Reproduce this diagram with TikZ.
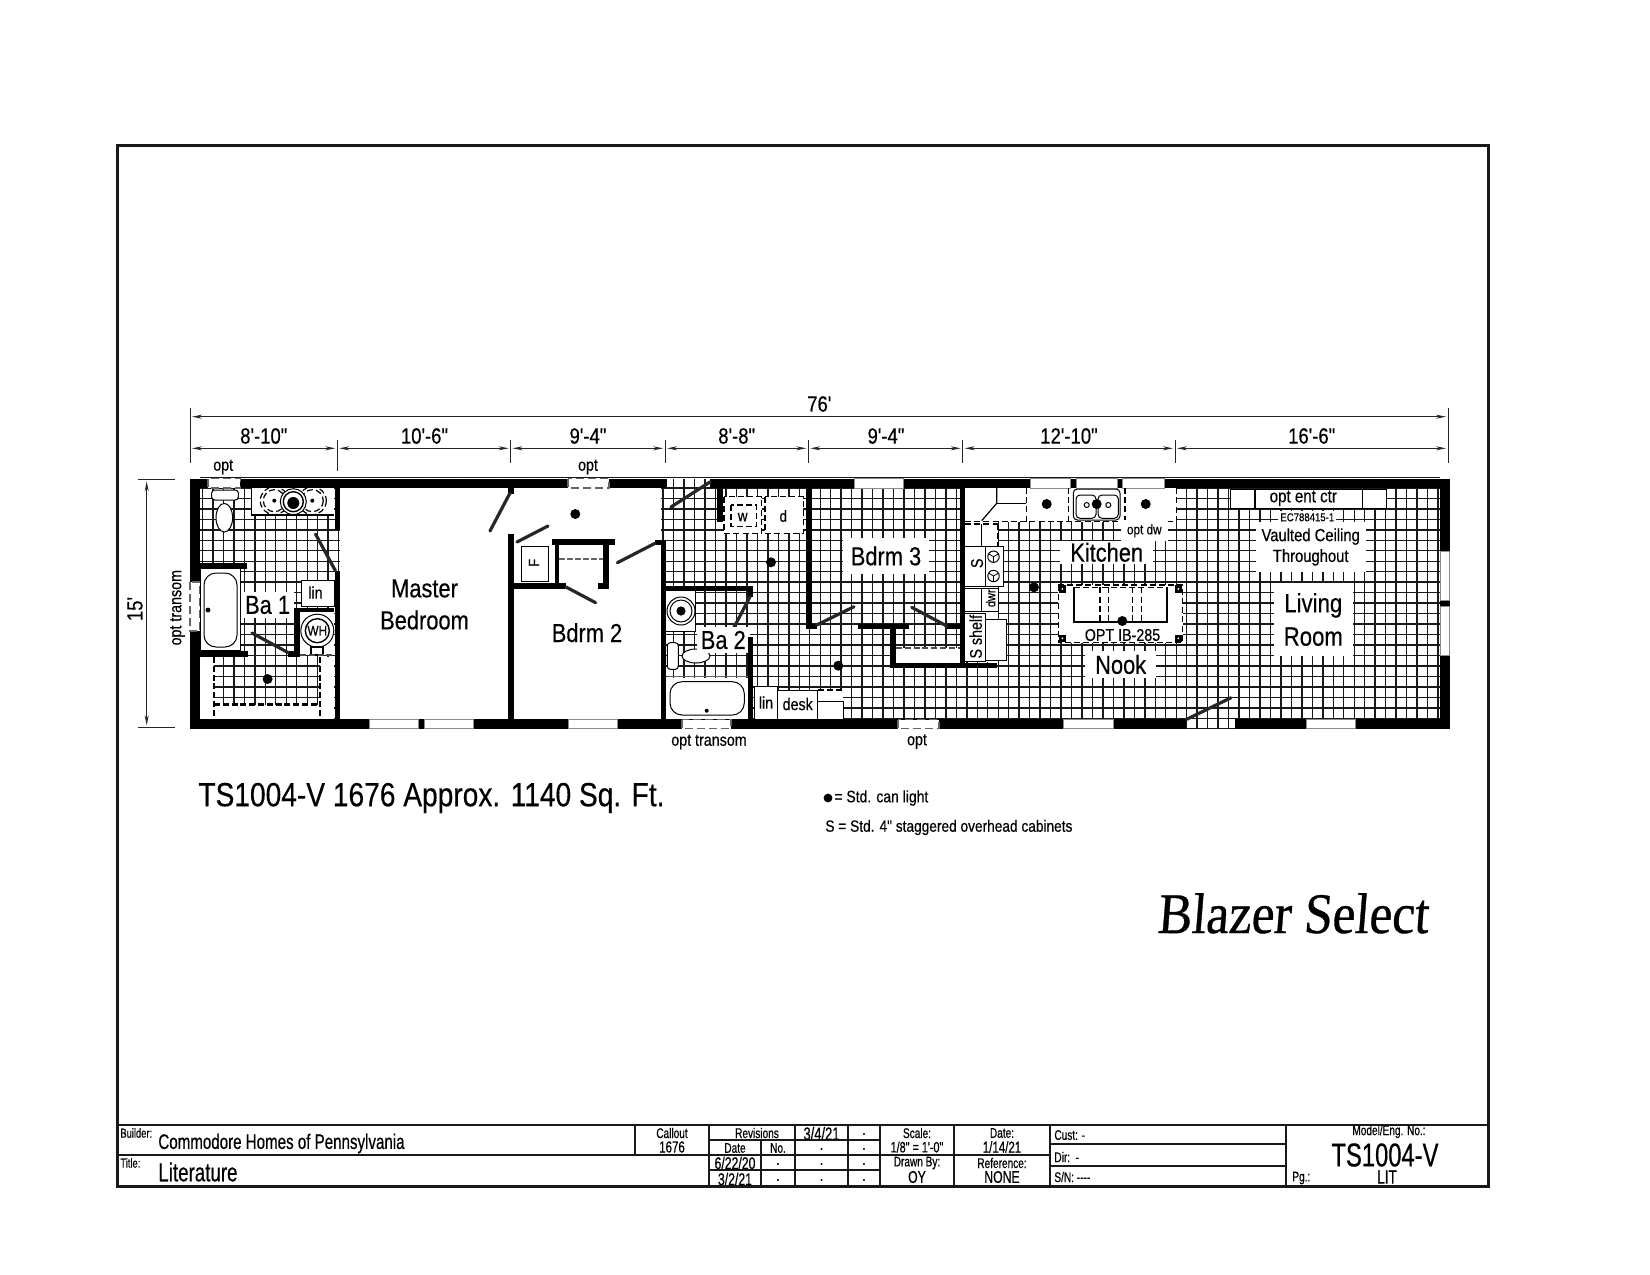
\documentclass[tikz,border=0pt]{standalone}
\usepackage{fontspec}
\usepackage{tikz}
\usetikzlibrary{arrows.meta}
\setmainfont{Liberation Sans}
\newfontfamily\cad[FakeStretch=0.84,FakeBold=0.35]{Liberation Sans}
\newfontfamily\cadn[FakeStretch=0.72,FakeBold=0.45]{Liberation Sans}
\newfontfamily\brand[FakeStretch=0.89,FakeSlant=0.08,FakeBold=0.6]{Liberation Serif}
\newcommand{\sz}[1]{\fontsize{#1}{#1}\selectfont}
\tikzset{%
    wall/.style={fill=black},
    tile/.style={line width=0.7pt,black!90},
    win/.style={fill=white,draw=black!45,line width=0.4pt},
    optwin/.style={fill=white,draw=black!60,line width=0.6pt,dashed,dash pattern=on 4pt off 2pt},
    dot/.style={circle,fill=black,inner sep=0pt,minimum size=5pt},
    door/.style={line width=1.6pt,black!85,line cap=round},
    fix/.style={fill=white,draw=black,line width=0.5pt},
    mask/.style={fill=white},
    dsh/.style={line width=0.6pt,dashed,dash pattern=on 3pt off 1.6pt},
    thickdsh/.style={line width=1.2pt,dashed,dash pattern=on 3pt off 1.4pt}
}
\begin{document}
\begin{tikzpicture}[
        x=0.5pt,y=-0.5pt,
        dim/.style={line width=0.6pt,black!85,{Stealth[length=5pt,width=2pt]}-{Stealth[length=5pt,width=2pt]},shorten <=1pt,shorten >=1pt},
        ext/.style={line width=0.5pt,black!85},
        room/.style={font=\cad\sz{13},fill=white,inner sep=2pt,align=center},
        note/.style={font=\cad\sz{8.5},inner sep=0pt},
        small/.style={font=\cad\sz{7},fill=white,inner sep=1pt},
        tbl/.style={line width=0.9pt,black!90},
        tbs/.style={font=\cadn\sz{6.5},inner sep=0pt},
        tbm/.style={font=\cadn\sz{8},inner sep=0pt}
        ]
        \useasboundingbox (0,0) rectangle (1650,1275);
        \fill[white] (0,0) rectangle (1650,1275);

        \foreach \i in {0,...,118} {\draw[tile] ({202.5+10.47*\i},478.5) -- ({202.5+10.47*\i},728.5);}
        \foreach \i in {-1,...,23} {\draw[tile] (200,{718.3-10.47*\i}) -- (1440,{718.3-10.47*\i});}

        \fill[mask] (340,488) rectangle (661,719);
        \fill[mask] (200,657) rectangle (214,719);
        \fill[mask] (320,657) rectangle (334,719);
        \fill[mask] (214,704.5) rectangle (320,719);
        \fill[mask] (965,488) rectangle (1176.7,521.7);
        \fill[mask] (965,521) rectangle (998,662);
        \fill[mask] (896,648) rectangle (960,663);
        \fill[mask] (1058,585) rectangle (1183,643);
        \fill[mask] (666,678) rectangle (748,719);

        \fill[wall] (189.5,478.5) rectangle (667,488.3);
        \fill[wall] (710,478.5) rectangle (1450,488.3);
        \fill[wall] (189.5,719.3) rectangle (1186,729);
        \fill[wall] (1235,719.3) rectangle (1450,729);
        \fill[wall] (189.5,478.5) rectangle (200,729);
        \fill[wall] (1439.5,478.5) rectangle (1450,729);
        \fill[wall] (335,488) rectangle (340.3,530);
        \fill[wall] (335,571) rectangle (340.3,719);
        \fill[wall] (508,488) rectangle (514,494);
        \fill[wall] (508,534) rectangle (514,720);
        \fill[wall] (660.6,540) rectangle (666.4,720);
        \fill[wall] (655,540) rectangle (666,545);
        \fill[wall] (551.6,539) rectangle (614.7,545);
        \fill[wall] (554.6,539) rectangle (559,588);
        \fill[wall] (514,583) rectangle (566,589);
        \fill[wall] (603,545) rectangle (609,589);
        \fill[wall] (597.5,583) rectangle (609,589);
        \fill[wall] (200,562.7) rectangle (247,568.7);
        \fill[wall] (200,650.5) rectangle (248,656.7);
        \fill[wall] (294.4,608) rectangle (299.8,656);
        \fill[wall] (294.4,608) rectangle (334,612.3);
        \fill[wall] (288,651) rectangle (300,656.5);
        \fill[wall] (666,586) rectangle (753.3,591);
        \fill[wall] (748.3,586) rectangle (753.3,596.7);
        \fill[wall] (716.7,488) rectangle (722.7,521.7);
        \fill[wall] (805.7,488) rectangle (811.7,629.3);
        \fill[wall] (805.7,624.3) rectangle (816.7,629.3);
        \fill[wall] (858.3,624.3) rectangle (909.3,629.3);
        \fill[wall] (890,624.3) rectangle (896,667.3);
        \fill[wall] (890,662.7) rectangle (996.7,668);
        \fill[wall] (946.7,624.3) rectangle (965,629.3);
        \fill[wall] (960,488) rectangle (964.5,668);

        \draw[win] (854,478.8) rectangle (903,488);
        \draw[win] (1030.7,478.8) rectangle (1070.7,488);
        \draw[win] (1076,478.8) rectangle (1117,488);
        \draw[win] (1122.7,478.8) rectangle (1164,488);
        \draw[win] (1440,551.7) rectangle (1449.5,600);
        \draw[win] (1440,606.7) rectangle (1449.5,655);
        \draw[win] (369.8,719.8) rectangle (418.4,728.5);
        \draw[win] (424,719.8) rectangle (473,728.5);
        \draw[win] (568,719.8) rectangle (617.4,728.5);
        \draw[win] (1063,719.8) rectangle (1113,728.5);
        \draw[win] (1306,719.8) rectangle (1355,728.5);
        \draw[optwin] (208,478.8) rectangle (240.4,488);
        \draw[optwin] (568,478.8) rectangle (609,488);
        \draw[optwin] (190,582) rectangle (200,631);
        \draw[optwin] (682,719.8) rectangle (731,728.5);
        \draw[optwin] (898,719.8) rectangle (939,728.5);

        \draw[door] (510,493) -- (490,531);
        \draw[door] (517,542) -- (548,526);
        \draw[door] (566,587) -- (595.6,602.7);
        \draw[door] (617.4,562.7) -- (655,543.3);
        \draw[door] (252,633) -- (288.3,652.7);
        \draw[door] (315.5,534) -- (335.4,570.7);
        \draw[door] (710,482) -- (671,507);
        \draw[door] (750,596.7) -- (730,635);
        \draw[door] (816.7,625) -- (854,606.7);
        \draw[door] (911.7,607.3) -- (946.7,626);
        \draw[door] (1186.7,719.3) -- (1231,697.7);

        \fill[mask] (251.7,488) rectangle (334,515);
        \draw[line width=0.7pt] (251.7,488) -- (251.7,515) -- (334,515);
        \draw[dsh] (274.3,500.7) circle (14);
        \draw[dsh] (274.3,500.7) circle (11);
        \draw[dsh] (312.3,500.7) circle (14);
        \draw[dsh] (312.3,500.7) circle (11);
        \draw[fix] (293.3,501.7) circle (13);
        \draw[fix,line width=0.7pt] (293.3,501.7) circle (10);
        \node[dot,minimum size=6pt] (bowl) at (293.3,503){};
        \node[dot,minimum size=2pt] (hot1) at (274.3,500.7){};
        \node[dot,minimum size=2pt] (hot2) at (312.3,500.7){};
        \draw[fix,rounded corners=1.5pt] (211.7,490) rectangle (238.3,500);
        \draw[fix] (224.3,517.7) ellipse (8.3 and 14.3);

        \draw[fix] (200,568.7) rectangle (240,650.5);
        \draw[fix,rounded corners=6pt] (204,573) rectangle (237,647);
        \node[dot,minimum size=2.4pt] (drain1) at (208,610){};
        \draw[fix] (301.7,580) rectangle (334,606.7);
        \fill[mask] (299.8,612.3) rectangle (334,655);
        \draw[fix] (317.3,630.7) circle (16.5);
        \draw[fix,line width=0.7pt] (317.3,630.7) circle (12);
        \node[font=\cad\sz{7},inner sep=0pt] (wh) at (317.3,630.7) {WH};
        \draw[line width=0.8pt] (311,647) rectangle (323,655);
        \draw[thickdsh,black!70] (300,655) -- (334,655);
        \draw[thickdsh] (214,657) -- (214,719);
        \draw[thickdsh] (320,657) -- (320,719);
        \draw[thickdsh] (214,704.5) -- (320,704.5);

        \draw[line width=0.5pt,fill=white] (521,546) rectangle (548.5,581);
        \node[font=\cad\sz{7.5},rotate=90,inner sep=0pt] (frz) at (534,562.7) {F};
        \draw[line width=1pt,black!60,dashed,dash pattern=on 3pt off 1pt] (559,559) -- (603,559);

        \fill[mask] (666,591) rectangle (695,631.7);
        \draw[fix] (681,611) circle (14);
        \draw[fix] (681,611) circle (11);
        \node[dot,minimum size=4.6pt] (bowl2) at (681,611){};
        \draw[line width=0.5pt] (695,591) -- (695,631.7) -- (666,631.7);
        \draw[fix,rounded corners=1.5pt] (667.3,642.7) rectangle (678.3,669.3);
        \draw[fix] (696,656) ellipse (14 and 7);
        \draw[line width=0.4pt,black!60] (666.7,676) -- (748,676);
        \draw[fix,rounded corners=6pt] (670,681.7) rectangle (744.3,715);
        \node[dot,minimum size=2pt] (drain2) at (706.7,710.7){};

        \fill[mask] (724,496.7) rectangle (761.7,533.3);
        \fill[mask] (765,496.7) rectangle (803.3,533.3);
        \draw[dsh] (724,496.7) rectangle (761.7,533.3);
        \draw[dsh] (731,505) rectangle (756.7,526.7);
        \draw[dsh] (765,496.7) rectangle (803.3,533.3);
        \node[font=\cad\sz{8},inner sep=0pt] (wsh) at (742.7,517) {w};
        \node[font=\cad\sz{8},inner sep=0pt] (dry) at (783.3,516) {d};

        \draw[fix] (754,686.7) rectangle (777.3,719);
        \draw[fix] (777.3,690) rectangle (817.7,719);
        \fill[mask] (817.7,690) rectangle (843.3,719);
        \draw[dsh] (817.7,690) -- (843.3,690);
        \draw[line width=0.5pt] (817.7,701.7) -- (843.3,701.7) -- (843.3,719);
        \node[note,font=\cad\sz{8.5}] (lin2) at (766,702.5) {lin};
        \node[note,font=\cad\sz{8.5}] (desk) at (797.7,704) {desk};

        \draw[thickdsh,black!70] (896,647.7) -- (960,647.7);

        \draw[line width=0.6pt] (996.7,488) -- (996.7,503.3) -- (981.7,520.7);
        \draw[line width=0.6pt] (996.7,503.3) -- (1026,503.3);
        \draw[dsh] (965,521.7) -- (1176.7,521.7) -- (1176.7,488);
        \draw[dsh] (1026.7,488) -- (1026.7,521.7);
        \draw[dsh] (1068.3,488) -- (1068.3,521.7);
        \draw[dsh] (1125,488) -- (1125,521.7);
        \draw[dsh] (965,524) -- (998,524);
        \draw[dsh] (998,524) -- (998,546);
        \draw[line width=0.5pt] (981.7,524) -- (981.7,546);
        \draw[fix,rounded corners=2pt] (1073.3,489) rectangle (1120,520);
        \draw[fix,rounded corners=2pt] (1076,495) rectangle (1096,518.3);
        \draw[fix,rounded corners=2pt] (1098,495) rectangle (1118.3,518.3);
        \draw[line width=0.5pt] (1086.7,505) circle (2.5);
        \draw[line width=0.5pt] (1108.3,505) circle (2.5);
        \node[dot] (c1) at (1046.7,504){};
        \node[dot] (c2) at (1096.7,504){};
        \node[dot] (c3) at (1145.7,504){};

        \draw[fix] (964.5,546) rectangle (985,586.7);
        \draw[fix] (985,546) rectangle (1003,586.7);
        \foreach \yy in {556.7,576} {
            \draw[line width=0.5pt] (993.5,\yy) circle (5.7);
            \draw[line width=0.4pt] (993.5,\yy) -- +(90:5.7) (993.5,\yy) -- +(210:5.7) (993.5,\yy) -- +(330:5.7);
        }
        \node[font=\cad\sz{8.5},rotate=90,inner sep=0pt] (s1) at (977,563.3) {S};
        \draw[line width=0.5pt] (964.5,588) rectangle (981.7,611.7);
        \draw[fix] (981.7,588) rectangle (998,611.7);
        \node[font=\cad\sz{6.5},rotate=90,inner sep=0pt] (dwr) at (990.7,598.3) {dwr};
        \draw[fix] (964.5,613) rectangle (985,661.7);
        \draw[fix] (985,619) rectangle (1006.7,660);
        \node[font=\cad\sz{8.5},rotate=90,inner sep=0pt] (shelf) at (975.7,636.7) {S shelf};

        \draw[dsh] (1058.3,585) rectangle (1182.7,642.7);
        \draw[line width=0.8pt] (1074,587.3) -- (1074,621.7) -- (1166.7,621.7) -- (1166.7,587.3);
        \draw[dsh] (1074,587.3) -- (1166.7,587.3);
        \foreach \xx in {1100,1108.3,1132.7,1141.7} {\draw[dsh] (\xx,587.3) -- (\xx,621.7);}
        \foreach \yy in {589,638.3} {
            \foreach \xx in {1062.3,1178.3} {
                \fill[black] (\xx-3.6,\yy-3.6) rectangle (\xx+3.6,\yy+3.6);
                \fill[white] (\xx,\yy) circle (1);
            }
        }
        \node[dot] (c4) at (1122.3,621){};
        \node[dot] (c5) at (1034,587.3){};
        \node[dot] (c6) at (575.3,514){};
        \node[dot] (c7) at (267.6,679){};
        \node[dot] (c8) at (771,562.3){};
        \node[dot] (c9) at (838.3,665.7){};

        \draw[fix] (1230,489) rectangle (1386.7,508.3);
        \draw[line width=0.6pt] (1255,489) -- (1255,508.3);
        \draw[line width=0.6pt] (1362.3,489) -- (1362.3,508.3);

        \node[room,fill=none] (mbr) at (424.5,604.5) {Master\\[3pt]Bedroom};
        \node[room,fill=none] (bd2) at (587,632.7) {Bdrm 2};
        \node[room] (ba1) at (267.6,605) {Ba 1};
        \node[font=\cad\sz{8.5},inner sep=0pt] (lin1) at (315.5,592.5) {lin};
        \node[room] (ba2) at (723.3,640) {Ba 2};
        \fill[wall] (748.3,637.3) rectangle (753.3,719);
        \node[room,inner sep=4pt] (bd3) at (886,556) {Bdrm 3};
        \node[room,inner xsep=5pt,inner ysep=1pt] (kit) at (1106.7,552.3) {Kitchen};
        \node[room,inner xsep=5pt] (nook) at (1120.7,664.5) {Nook};
        \node[font=\cad\sz{8.5},inner sep=0pt] (ib) at (1122.5,635) {OPT IB-285};
        \node[small,inner xsep=3pt,inner ysep=2pt] (dw) at (1144.3,530.7) {opt dw};
        \node[font=\cad\sz{9},inner sep=0pt] (ent) at (1303.3,498.3) {opt ent ctr};
        \node[small,font=\cad\sz{5.7}] (ec) at (1307.3,517.3) {EC788415-1};
        \node[room,font=\cad\sz{8.8},inner sep=3pt] (vault) at (1310.7,547) {Vaulted Ceiling\\[1.6pt]Throughout};
        \node[room,font=\cad\sz{13.2},inner sep=5pt] (liv) at (1313.3,619.5) {Living\\[3.5pt]Room};

        \coordinate (d0) at (190,448.3);
        \coordinate (d1) at (337.3,448.3);
        \coordinate (d2) at (510.6,448.3);
        \coordinate (d3) at (665.2,448.3);
        \coordinate (d4) at (808.3,448.3);
        \coordinate (d5) at (962.7,448.3);
        \coordinate (d6) at (1175,448.3);
        \coordinate (d7) at (1448,448.3);
        \coordinate (t0) at (190,416.7);
        \coordinate (t1) at (1448,416.7);
        \coordinate (v0) at (146.7,479.3);
        \coordinate (v1) at (146.7,727.3);
        \draw[dim] (t0) -- (t1);
        \draw[dim] (d0) -- (d1);
        \draw[dim] (d1) -- (d2);
        \draw[dim] (d2) -- (d3);
        \draw[dim] (d3) -- (d4);
        \draw[dim] (d4) -- (d5);
        \draw[dim] (d5) -- (d6);
        \draw[dim] (d6) -- (d7);
        \draw[dim] (v0) -- (v1);
        \draw[ext] (190,408) -- (190,463);
        \draw[ext] (1448,408) -- (1448,463);
        \draw[ext] (337.3,440) -- (337.3,471);
        \draw[ext] (510.6,440) -- (510.6,463);
        \draw[ext] (665.2,440) -- (665.2,463);
        \draw[ext] (808.3,440) -- (808.3,463);
        \draw[ext] (962.7,440) -- (962.7,463);
        \draw[ext] (1175,440) -- (1175,463);
        \draw[ext] (138,479.3) -- (175,479.3);
        \draw[ext] (138,727.3) -- (175,727.3);

        \node[font=\cad\sz{11},inner sep=0pt] (l0) at (819.3,404) {76'};
        \node[font=\cad\sz{11},inner sep=0pt] (l1) at (263.8,436) {8'-10"};
        \node[font=\cad\sz{11},inner sep=0pt] (l2) at (424.5,436) {10'-6"};
        \node[font=\cad\sz{11},inner sep=0pt] (l3) at (588,436) {9'-4"};
        \node[font=\cad\sz{11},inner sep=0pt] (l4) at (736.7,436) {8'-8"};
        \node[font=\cad\sz{11},inner sep=0pt] (l5) at (886,436) {9'-4"};
        \node[font=\cad\sz{11},inner sep=0pt] (l6) at (1069,436) {12'-10"};
        \node[font=\cad\sz{11},inner sep=0pt] (l7) at (1311.7,436) {16'-6"};
        \node[font=\cad\sz{11},rotate=90,inner sep=0pt] (l8) at (135,609) {15'};
        \node[note] (o1) at (223.2,467) {opt};
        \node[note] (o2) at (588,467) {opt};
        \node[note,rotate=90] (o3) at (177.5,607.7) {opt transom};
        \node[note] (o4) at (709,742) {opt transom};
        \node[note] (o5) at (917,741.5) {opt};

        \node[font=\cad\sz{16.75},anchor=west,inner sep=0pt] (titleline) at (198,798) {TS1004-V 1676 Approx. 1140 Sq. Ft.};
        \node[dot,minimum size=4.4pt] (lg) at (828,798){};
        \node[note,font=\cad\sz{8.3},anchor=west] (lg1) at (834,798) {= Std. can light};
        \node[note,font=\cad\sz{8.15},anchor=west] (lg2) at (825,827.5) {S = Std. 4" staggered overhead cabinets};
        \node[font=\brand\sz{28.7},inner sep=0pt,anchor=base] (blazer) at (1292.5,933) {Blazer Select};

        \draw[line width=1.5pt,black!90] (117,145) rectangle (1488,1186.5);
        \draw[tbl] (117,1125) -- (1488,1125);
        \draw[tbl] (117,1155) -- (1050,1155);
        \draw[tbl] (635,1125) -- (635,1155);
        \draw[tbl] (709,1125) -- (709,1187);
        \draw[tbl] (761,1140) -- (761,1187);
        \draw[tbl] (795,1125) -- (795,1187);
        \draw[tbl] (848,1125) -- (848,1187);
        \draw[tbl] (880,1125) -- (880,1187);
        \draw[tbl] (954,1125) -- (954,1187);
        \draw[tbl] (1050,1125) -- (1050,1187);
        \draw[tbl] (1286,1125) -- (1286,1187);
        \draw[tbl] (709,1140) -- (880,1140);
        \draw[tbl] (709,1170) -- (880,1170);
        \draw[tbl] (1050,1144) -- (1286,1144);
        \draw[tbl] (1050,1166) -- (1286,1166);

        \node[tbs,anchor=west] (bldr) at (120,1133) {Builder:};
        \node[font=\cadn\sz{10.5},anchor=west,inner sep=0pt] (bname) at (158,1143.5) {Commodore Homes of Pennsylvania};
        \node[tbs,anchor=west] (ttl) at (120,1163) {Title:};
        \node[font=\cadn\sz{13},anchor=west,inner sep=0pt] (tname) at (158,1172) {Literature};
        \node[tbs,font=\cadn\sz{7}] (call) at (672,1133) {Callout};
        \node[tbm] (calln) at (672,1147) {1676};
        \node[tbs,font=\cadn\sz{7}] (rev) at (757,1133) {Revisions};
        \node[tbm,font=\cadn\sz{9}] (r0) at (821.5,1133.5) {3/4/21};
        \node[tbm] (r0b) at (864,1134) {.};
        \node[tbs,font=\cadn\sz{7}] (dt) at (735,1148) {Date};
        \node[tbs,font=\cadn\sz{7}] (no) at (778,1148) {No.};
        \node[tbm] (r1b) at (821.5,1149) {.};
        \node[tbm] (r1c) at (864,1149) {.};
        \node[tbm,font=\cadn\sz{8.5}] (r2) at (735,1163) {6/22/20};
        \node[tbm] (r2a) at (778,1164) {.};
        \node[tbm] (r2b) at (821.5,1164) {.};
        \node[tbm] (r2c) at (864,1164) {.};
        \node[tbm,font=\cadn\sz{8.5}] (r3) at (735,1179) {3/2/21};
        \node[tbm] (r3a) at (778,1180) {.};
        \node[tbm] (r3b) at (821.5,1180) {.};
        \node[tbm] (r3c) at (864,1180) {.};
        \node[tbs,font=\cadn\sz{7}] (sc) at (917,1133) {Scale:};
        \node[tbm,font=\cadn\sz{7.5}] (scv) at (917,1147) {1/8" = 1'-0"};
        \node[tbs,font=\cadn\sz{7}] (dr) at (917,1163) {Drawn By:};
        \node[tbm,font=\cadn\sz{8.5}] (drv) at (917,1177) {OY};
        \node[tbs,font=\cadn\sz{7}] (da) at (1002,1133) {Date:};
        \node[tbm] (dav) at (1002,1147) {1/14/21};
        \node[tbs,font=\cadn\sz{7}] (rf) at (1002,1163) {Reference:};
        \node[tbm,font=\cadn\sz{8.5}] (rfv) at (1002,1177) {NONE};
        \node[tbs,font=\cadn\sz{7},anchor=west] (cu) at (1054,1135) {Cust: -};
        \node[tbs,font=\cadn\sz{7},anchor=west] (di) at (1054,1157) {Dir:\ \ -};
        \node[tbs,font=\cadn\sz{7},anchor=west] (sn) at (1054,1177) {S/N:\ ----};
        \node[tbs,font=\cadn\sz{7}] (mdl) at (1389,1131.5) {Model/Eng. No.:};
        \node[font=\cadn\sz{16.5},inner sep=0pt] (mdlv) at (1385,1155) {TS1004-V};
        \node[tbm,font=\cadn\sz{9.5}] (lit) at (1387,1177) {LIT};
        \node[tbs,font=\cadn\sz{7},anchor=west] (pg) at (1292,1178) {Pg.:};
\end{tikzpicture}
\end{document}
